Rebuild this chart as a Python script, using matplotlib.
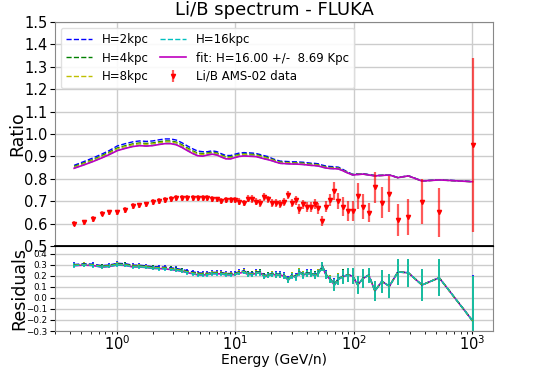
import matplotlib
matplotlib.use("Agg")
import matplotlib.pyplot as plt
import numpy as np

# Li/B AMS-02 data (kinetic energy per nucleon)
energia = [0.435, 0.526, 0.627, 0.743, 0.861, 1.01, 1.18, 1.36, 1.55, 1.77,
           2.0, 2.26, 2.55, 2.84, 3.17, 3.54, 3.93, 4.36, 4.80, 5.30,
           5.8, 6.39, 7.0, 7.62, 8.33, 9.14, 9.95, 10.8, 11.8, 12.8,
           13.9, 15.0, 16.3, 17.6, 19.0, 20.6, 22.2, 24.0, 25.9, 28.0,
           30.1, 32.4, 34.5, 37.3, 40.1, 43.4, 46.9, 50.3, 54.4, 58.5,
           63.2, 68.7, 74.3, 81, 89, 98, 108, 120, 134, 151,
           173, 200, 236, 289, 377, 527, 1010]
dados = [0.600, 0.606, 0.620, 0.644, 0.650, 0.650, 0.661, 0.679, 0.682, 0.686,
         0.695, 0.700, 0.705, 0.711, 0.714, 0.714, 0.714, 0.713, 0.714, 0.714,
         0.716, 0.711, 0.708, 0.702, 0.704, 0.704, 0.705, 0.698, 0.692, 0.711,
         0.710, 0.698, 0.692, 0.719, 0.708, 0.693, 0.693, 0.689, 0.698, 0.728,
         0.692, 0.705, 0.665, 0.686, 0.674, 0.673, 0.686, 0.668, 0.612, 0.675,
         0.705, 0.747, 0.702, 0.676, 0.656, 0.656, 0.723, 0.676, 0.649, 0.762,
         0.693, 0.731, 0.616, 0.628, 0.698, 0.650, 0.951]
erros = [0.012, 0.012, 0.012, 0.012, 0.012, 0.012, 0.012, 0.012, 0.012, 0.012,
         0.013, 0.013, 0.013, 0.013, 0.013, 0.013, 0.013, 0.013, 0.013, 0.013,
         0.013, 0.013, 0.013, 0.013, 0.013, 0.013, 0.013, 0.015, 0.015, 0.016,
         0.016, 0.016, 0.017, 0.017, 0.017, 0.018, 0.018, 0.018, 0.018, 0.018,
         0.020, 0.020, 0.021, 0.021, 0.022, 0.022, 0.023, 0.023, 0.024, 0.025,
         0.025, 0.040, 0.035, 0.043, 0.043, 0.046, 0.057, 0.057, 0.043, 0.070,
         0.070, 0.080, 0.073, 0.080, 0.100, 0.110, 0.390]

# modelos FLUKA
h2 = [0.860, 0.877, 0.893, 0.910, 0.926, 0.947, 0.957, 0.965, 0.969, 0.967,
      0.969, 0.974, 0.978, 0.978, 0.973, 0.961, 0.947, 0.934, 0.924, 0.921,
      0.921, 0.925, 0.921, 0.912, 0.904, 0.904, 0.910, 0.915, 0.917, 0.916,
      0.915, 0.913, 0.908, 0.903, 0.899, 0.890, 0.884, 0.879, 0.878, 0.877,
      0.876, 0.876, 0.875, 0.874, 0.872, 0.870, 0.869, 0.867, 0.861, 0.857,
      0.855, 0.854, 0.852, 0.842, 0.830, 0.820, 0.822, 0.823, 0.819, 0.815,
      0.816, 0.818, 0.806, 0.814, 0.791, 0.796, 0.788]
h4 = [0.855, 0.871, 0.886, 0.903, 0.919, 0.938, 0.948, 0.956, 0.960, 0.958,
      0.960, 0.965, 0.969, 0.969, 0.964, 0.952, 0.938, 0.925, 0.915, 0.913,
      0.915, 0.919, 0.915, 0.906, 0.898, 0.898, 0.904, 0.909, 0.911, 0.910,
      0.909, 0.908, 0.903, 0.898, 0.894, 0.886, 0.880, 0.875, 0.874, 0.873,
      0.872, 0.872, 0.871, 0.870, 0.868, 0.866, 0.865, 0.863, 0.857, 0.853,
      0.851, 0.850, 0.848, 0.839, 0.828, 0.819, 0.821, 0.822, 0.818, 0.814,
      0.815, 0.817, 0.805, 0.813, 0.790, 0.795, 0.787]
h8 = [0.852, 0.868, 0.883, 0.899, 0.915, 0.934, 0.944, 0.952, 0.956, 0.954,
      0.956, 0.961, 0.965, 0.965, 0.960, 0.948, 0.934, 0.921, 0.911, 0.909,
      0.912, 0.916, 0.912, 0.903, 0.895, 0.895, 0.901, 0.906, 0.908, 0.907,
      0.906, 0.905, 0.900, 0.895, 0.891, 0.884, 0.878, 0.873, 0.872, 0.871,
      0.870, 0.870, 0.869, 0.868, 0.866, 0.864, 0.863, 0.861, 0.855, 0.851,
      0.849, 0.848, 0.847, 0.838, 0.827, 0.818, 0.820, 0.821, 0.817, 0.813,
      0.815, 0.817, 0.805, 0.813, 0.790, 0.795, 0.787]
h16 = [0.848, 0.863, 0.878, 0.894, 0.909, 0.927, 0.937, 0.945, 0.949, 0.947,
       0.949, 0.954, 0.958, 0.958, 0.953, 0.941, 0.927, 0.914, 0.904, 0.902,
       0.907, 0.911, 0.907, 0.898, 0.890, 0.890, 0.896, 0.901, 0.903, 0.902,
       0.901, 0.900, 0.895, 0.890, 0.886, 0.880, 0.874, 0.869, 0.868, 0.867,
       0.866, 0.866, 0.865, 0.864, 0.862, 0.860, 0.859, 0.857, 0.852, 0.848,
       0.846, 0.845, 0.844, 0.836, 0.826, 0.817, 0.819, 0.821, 0.817, 0.813,
       0.815, 0.817, 0.805, 0.813, 0.790, 0.795, 0.787]
ajuste = [0.847, 0.862, 0.877, 0.893, 0.908, 0.926, 0.936, 0.944, 0.948, 0.946,
          0.948, 0.953, 0.957, 0.957, 0.952, 0.940, 0.926, 0.913, 0.903, 0.901,
          0.906, 0.910, 0.906, 0.897, 0.889, 0.889, 0.895, 0.900, 0.902, 0.901,
          0.900, 0.899, 0.894, 0.889, 0.885, 0.880, 0.874, 0.869, 0.868, 0.867,
          0.866, 0.866, 0.865, 0.864, 0.862, 0.860, 0.859, 0.857, 0.852, 0.848,
          0.846, 0.845, 0.844, 0.836, 0.826, 0.817, 0.819, 0.821, 0.817, 0.813,
          0.815, 0.817, 0.805, 0.813, 0.790, 0.795, 0.787]

modelos = [(h2, 'b', 'H=2kpc'), (h4, 'g', 'H=4kpc'),
           (h8, 'y', 'H=8kpc'), (h16, 'c', 'H=16kpc')]

E = np.array(energia)
d = np.array(dados)
err = np.array(erros)

fig = plt.figure(figsize=(5.48, 3.68), dpi=100)
ax1 = fig.add_axes([0.1004, 0.3315, 0.7992, 0.6087])
ax2 = fig.add_axes([0.1004, 0.1005, 0.7992, 0.2310], sharex=ax1)

## painel de cima
for m, cor, nome in modelos:
    ax1.plot(E, m, color=cor, linestyle='--', linewidth=1, label=nome)
ax1.plot(E, ajuste, color='m', linewidth=1.2, label='fit: H=16.00 +/-  8.69 Kpc')
ax1.errorbar(E, d, yerr=err, fmt='v', color='red', markersize=3,
             ecolor=(1, 0, 0, 0.65), elinewidth=1.6, capsize=0,
             label='Li/B AMS-02 data')

ax1.set_xscale('log')
ax1.set_xlim(0.3, 1500)
ax1.set_ylim(0.5, 1.5)
ax1.set_yticks(np.arange(0.5, 1.51, 0.1))
ax1.tick_params(axis='y', labelsize=10.5, pad=2)
ax1.tick_params(axis='x', which='both', labelbottom=False, length=0)
ax1.set_ylabel('Ratio', fontsize=12.5)
ax1.yaxis.set_label_coords(-0.066, 0.5)
ax1.set_title('Li/B spectrum - FLUKA', fontsize=13, pad=5)
ax1.grid(True, color='#cccccc', linewidth=1)

ax1.legend(ncol=2, loc='upper left', fontsize=8.5, handlelength=2.2,
           columnspacing=1.0, labelspacing=0.45, borderpad=0.45,
           framealpha=0.9, edgecolor='#dddddd')

## residuos
m_aj = np.array(ajuste)
ax2.plot(E, (m_aj - d) / m_aj, color='m', linewidth=1.2)
for m, cor, nome in modelos:
    m = np.array(m)
    ax2.errorbar(E, (m - d) / m, yerr=err / d, color=cor, linestyle='--',
                 linewidth=1, elinewidth=1.2, capsize=0)

ticks_res = np.arange(-0.3, 0.41, 0.1)
ax2.set_ylim(-0.3, 0.47)
ax2.set_yticks(ticks_res)
ax2.set_yticklabels([f'{v:.1f}'.replace('-', '\u2212') for v in ticks_res])
ax2.tick_params(axis='y', labelsize=6.3, pad=2)
ax2.tick_params(axis='x', which='major', labelsize=10.5, length=2, pad=0.5)
ax2.tick_params(axis='x', which='minor', length=2)
ax2.set_ylabel('Residuals', fontsize=12.5)
ax2.yaxis.set_label_coords(-0.062, 0.5)
ax2.set_xlabel('Energy (GeV/n)', fontsize=10, labelpad=0)
ax2.grid(True, color='#cccccc', linewidth=1)

for ax in (ax1, ax2):
    for s in ax.spines.values():
        s.set_color('#888888')
ax1.spines['bottom'].set_color('black')
ax1.spines['bottom'].set_linewidth(1.3)
ax2.spines['top'].set_color('black')

fig.savefig('out.png', dpi=100)
